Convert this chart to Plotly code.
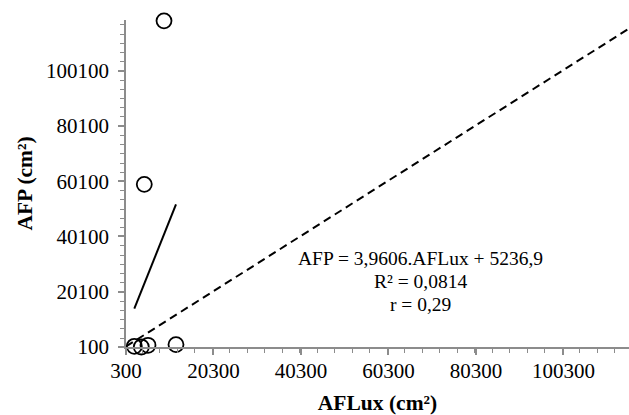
import plotly.graph_objects as go

# Data
aflux = [2200, 3800, 5330, 11730, 4480, 8990]
afp = [350, 100, 720, 970, 58940, 118100]

# Regression coefficients shown on the chart
slope = 3.9606
intercept = 5236.9
eq_lines = ["AFP = 3,9606.AFLux + 5236,9", "R² = 0,0814", "r = 0,29"]

# Axis settings
x_range = [300, 115300]
y_range = [100, 118400]
major = 20000

xmin, xmax = min(aflux), max(aflux)
trend_x = [xmin, xmax]
trend_y = [slope * v + intercept for v in trend_x]

font_family = "Liberation Serif"

fig = go.Figure()

# 1:1 line
fig.add_trace(go.Scatter(
    x=x_range, y=x_range, mode="lines",
    line=dict(color="black", width=2, dash="8px,5px"),
    hoverinfo="skip", showlegend=False))

# regression line
fig.add_trace(go.Scatter(
    x=trend_x, y=trend_y, mode="lines",
    line=dict(color="black", width=2),
    showlegend=False))

# points
fig.add_trace(go.Scatter(
    x=aflux, y=afp, mode="markers",
    marker=dict(symbol="circle-open", size=15, color="black",
                line=dict(width=1.8, color="black")),
    showlegend=False, cliponaxis=False))

axis_common = dict(
    showgrid=False, zeroline=False, showline=True,
    linecolor="#8c8c8c", linewidth=1.5,
    ticks="outside", tickcolor="#8c8c8c", ticklen=6, tickwidth=1.5,
    tickformat="d",
    tickfont=dict(family=font_family, size=21, color="black"),
)

fig.update_xaxes(
    range=x_range, tick0=300, dtick=major,
    minor=dict(dtick=major / 5, ticks="outside", ticklen=4,
               tickcolor="#8c8c8c", tickwidth=1.2),
    ticklabelstandoff=-2,
    title=dict(text="<b>AFLux (cm²)</b>",
               font=dict(family=font_family, size=21.5, color="black"),
               standoff=14),
    **axis_common)

fig.update_yaxes(
    range=y_range, tick0=100, dtick=major,
    minor=dict(dtick=major / 6, ticks="outside", ticklen=4,
               tickcolor="#8c8c8c", tickwidth=1.2),
    ticklabelstandoff=5,
    title=dict(text="<b>AFP (cm²)</b>",
               font=dict(family=font_family, size=21.5, color="black"),
               standoff=8),
    **axis_common)

for i, t in enumerate(eq_lines):
    fig.add_annotation(
        x=0.585, y=0.272 - i * 0.0705, xref="paper", yref="paper",
        text=t, showarrow=False, xanchor="center", yanchor="middle",
        font=dict(family=font_family, size=19.5, color="black"))

fig.update_layout(
    width=629, height=415,
    margin=dict(l=126, r=0, t=20, b=68),
    plot_bgcolor="white", paper_bgcolor="white",
)

fig.write_html("out.html")
